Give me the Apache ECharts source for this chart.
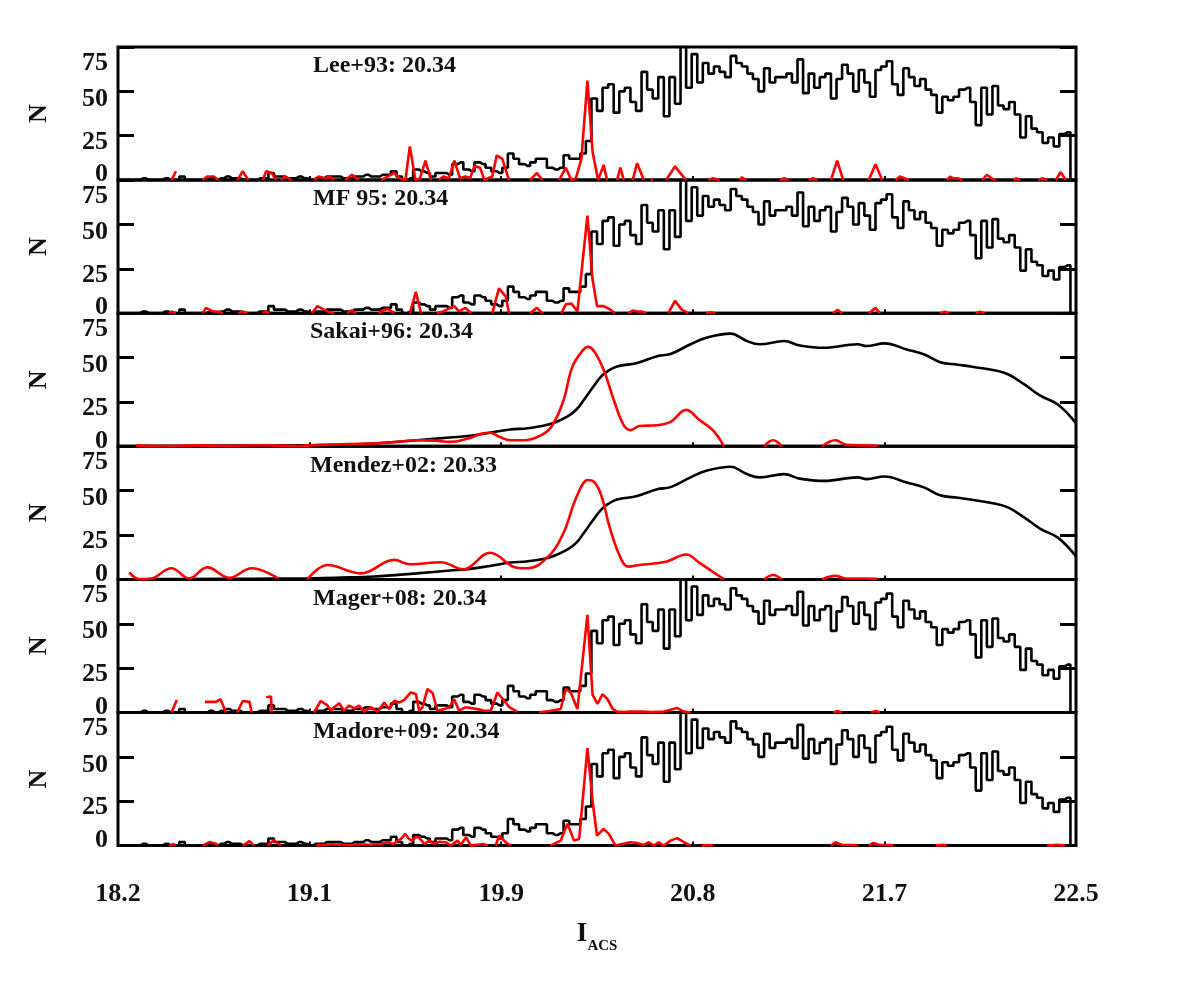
<!DOCTYPE html>
<html>
<head>
<meta charset="utf-8">
<script src="https://cdn.jsdelivr.net/npm/echarts@6/dist/echarts.min.js"></script>
<style>html,body{margin:0;padding:0;background:#fff}#c{width:1196px;height:997px}</style>
</head>
<body>
<div id="c"></div>
<script>
// ---------------- DATA ----------------
const panelTitles = ['Lee+93: 20.34', 'MF 95: 20.34', 'Sakai+96: 20.34', 'Mendez+02: 20.33', 'Mager+08: 20.34', 'Madore+09: 20.34'];
const xTickValues = [18.2, 19.06, 19.92, 20.78, 21.64, 22.5];
const xTickLabels = ['18.2', '19.1', '19.9', '20.8', '21.7', '22.5'];
const yTickLabels = ['0', '25', '50', '75'];
const xTitleMain = 'I';
const xTitleSub = 'ACS';
const yTitle = 'N';

// Histogram (black, panels 1,2,5,6): bins of 0.025 mag starting at 18.2
const histStart = 18.2;
const binWidth = 0.025;
const histCounts = [
  0,0,0,0,
  1,0,0,0,1,0,0,
  2,0,0,0,0,1,0,1,2,1,
  1,0,0,0,1,1,4,2,2,1,
  1,2,1,0,1,1,2,2,2,1,
  1,2,2,3,2,2,3,3,5,2,0,1,
  6,5,4,2,4,4,3,9,10,6,
  5,10,9,7,5,4,7,15,12,9,
  8,10,12,12,7,6,7,14,12,12,15,22,
  46,39,52,54,38,50,52,44,39,61,51,46,58,36,58,43,
  80,52,71,55,66,60,64,61,58,70,66,64,60,57,50,63,55,58,58,60,
  55,68,49,60,52,58,60,46,57,65,60,50,62,55,47,62,64,67,54,48,
  63,58,53,57,51,48,38,47,45,47,51,52,44,31,52,37,53,42,40,44,
  37,24,36,29,27,21,24,19,26,27,0
];

// Smoothed luminosity function (black, panels 3,4)
const smoothMag = [18.2,18.5,18.8,19.0,19.2,19.35,19.54,19.69,19.77,19.87,19.96,20.04,20.14,20.22,20.26,20.29,20.33,20.37,20.40,20.44,20.53,20.62,20.68,20.77,20.84,20.95,21.02,21.08,21.19,21.26,21.37,21.52,21.56,21.64,21.74,21.82,21.89,21.97,22.04,22.18,22.27,22.34,22.42,22.5];
const smoothN   = [0,0.2,0.4,0.5,1,1.6,3.4,5,5.8,7.6,9.5,10.2,12.5,17,21,26,33,39.5,42.5,45,47,50.8,52,57.5,61.2,63.5,59.5,57.5,59.3,56.8,55.5,57.5,56.5,58,54.6,51.7,47.4,46,44.7,41.3,34.7,28.5,23.4,13];

// Edge-detection responses (red), [mag, N]; null = not visible
const redLee93 = [
  [18.44,0],[18.46,5],[18.48,null],
  [18.58,0],[18.6,2],[18.63,2],[18.65,0],[18.66,null],
  [18.735,0],[18.76,5],[18.785,0],[18.79,null],
  [18.85,0],[18.865,5],[18.89,4],[18.91,0],[18.92,null],
  [18.93,0],[18.95,2],[18.98,0],[18.99,null],
  [19.08,0],[19.1,2],[19.13,1],[19.15,2],[19.17,0],[19.18,null],
  [19.22,0],[19.25,3],[19.28,0],[19.29,null],
  [19.38,0],[19.41,2],[19.44,4],[19.465,1],[19.49,0],[19.51,19],[19.535,0],[19.555,1],[19.58,11],[19.605,0],[19.62,null],
  [19.64,0],[19.66,2],[19.685,1],[19.71,11],[19.735,1],[19.76,2],[19.78,1],[19.80,8],[19.825,7],[19.845,0],[19.86,1],[19.88,2],[19.90,14],[19.925,12],[19.955,0],[19.96,null],
  [20.05,0],[20.08,4],[20.105,0],[20.11,null],
  [20.18,0],[20.21,7],[20.235,0],[20.255,1],[20.28,12],[20.307,56],[20.33,16],[20.355,0],[20.38,8.5],[20.395,0],[20.40,null],
  [20.44,0],[20.455,7],[20.47,0],[20.48,null],
  [20.51,0],[20.53,9.5],[20.56,0],[20.57,null],
  [20.59,0],[20.60,0.5],[20.61,null],
  [20.66,0],[20.70,7.7],[20.75,0],[20.76,null],
  [20.85,0],[20.87,1],[20.90,0],[20.91,null],
  [20.99,0],[21.0,1.5],[21.02,0],[21.03,null],
  [21.17,0],[21.19,1],[21.21,0],[21.22,null],
  [21.30,0],[21.32,1],[21.34,0],[21.35,null],
  [21.40,0],[21.428,11],[21.455,0],[21.46,null],
  [21.57,0],[21.60,9],[21.63,0],[21.64,null],
  [21.69,0],[21.71,2],[21.73,1],[21.75,0],[21.76,null],
  [21.92,0],[21.935,2],[21.95,1],[21.97,1],[21.99,0],[22.0,null],
  [22.08,0],[22.10,3],[22.12,1],[22.14,0],[22.15,null],
  [22.22,0],[22.23,1],[22.25,0],[22.26,null],
  [22.33,0],[22.35,1],[22.37,0],[22.38,null],
  [22.41,0],[22.43,4.5],[22.455,0]
];
const redMF95 = [
  [18.43,0],[18.44,1],[18.46,0],[18.47,null],
  [18.58,0],[18.595,3],[18.625,1],[18.65,1],[18.67,0],[18.68,null],
  [18.74,0],[18.76,1],[18.78,0],[18.79,null],
  [18.85,0],[18.86,1],[18.88,0],[18.89,null],
  [19.07,0],[19.095,4],[19.125,2],[19.15,0.5],[19.17,0],[19.18,null],
  [19.23,0],[19.245,1.5],[19.27,0],[19.28,null],
  [19.37,0],[19.39,1.5],[19.41,2.5],[19.44,0],[19.45,null],
  [19.51,0],[19.537,12],[19.56,0],[19.57,null],
  [19.63,0],[19.66,1],[19.69,3],[19.71,4],[19.73,1],[19.76,3],[19.785,0],[19.79,null],
  [19.88,0],[19.91,14],[19.94,9.5],[19.955,0],[19.96,null],
  [20.05,0],[20.08,3],[20.105,0],[20.11,null],
  [20.19,0],[20.21,5],[20.235,5.5],[20.262,1],[20.307,55],[20.33,19],[20.35,4],[20.38,4],[20.41,2],[20.43,0],[20.44,null],
  [20.49,0],[20.51,1.5],[20.53,1],[20.55,1],[20.57,0],[20.58,null],
  [20.67,0],[20.70,7],[20.73,2],[20.76,0],[20.77,null],
  [20.84,0],[20.86,0.5],[20.88,0],[20.89,null],
  [21.41,0],[21.43,2],[21.45,0],[21.46,null],
  [21.57,0],[21.60,3],[21.62,0],[21.63,null],
  [21.89,0],[21.91,0.8],[21.93,0],[21.94,null],
  [22.05,0],[22.07,0.8],[22.09,0]
];
const redSakai96 = [
  [18.28,0.5],[18.4,0.2],[18.55,0.5],[18.7,0.3],[18.85,0.6],[19.0,0.2],[19.1,0.8],[19.32,1.5],[19.44,2.4],[19.54,3.4],
  [19.62,3.2],[19.69,2.5],[19.77,4.4],[19.83,7],[19.87,7.6],[19.91,5.5],[19.96,3.4],[20.02,3.4],[20.1,6.3],[20.15,11.9],
  [20.2,26],[20.24,45],[20.29,54.6],[20.31,56],[20.34,53],[20.38,43],[20.43,24.4],[20.47,11.9],[20.5,9.1],[20.54,11.4],
  [20.62,11.9],[20.68,13.8],[20.75,20.5],[20.81,14.8],[20.87,9.1],[20.92,0],[20.93,null],
  [21.10,0],[21.14,3.4],[21.18,0],[21.19,null],
  [21.36,0],[21.42,3.4],[21.47,0.8],[21.55,0.5],[21.61,0.3]
];
const redMendez02 = [
  [18.25,4],[18.3,0],[18.35,0.5],[18.44,6.3],[18.52,0.5],[18.6,6.8],[18.7,0.9],[18.8,6.3],[18.92,0.5],[18.93,null],
  [19.05,0],[19.14,8.1],[19.29,3.4],[19.44,11],[19.51,8.5],[19.65,9.7],[19.75,5.7],[19.87,15],[19.99,6.6],[20.04,6.3],
  [20.14,14],[20.2,26.3],[20.26,47],[20.31,56],[20.34,54.5],[20.37,47],[20.41,28],[20.46,11],[20.49,7.2],[20.54,8.1],
  [20.66,10],[20.75,14],[20.81,9.3],[20.92,0],[20.93,null],
  [21.10,0],[21.14,2.5],[21.18,0],[21.19,null],
  [21.36,0],[21.42,2],[21.47,0.5],[21.55,0.5],[21.61,0.3]
];
const redMager08 = [
  [18.44,0],[18.464,7],[18.47,null],
  [18.59,6],[18.64,6],[18.66,7.5],[18.685,0],[18.69,null],
  [18.735,0],[18.76,6.5],[18.79,6],[18.80,0],[18.81,null],
  [18.865,8.6],[18.887,9],[18.89,0],[18.90,null],
  [19.08,0],[19.11,6.5],[19.14,4],[19.155,1],[19.17,3],[19.193,5.2],[19.215,1],[19.237,3.9],[19.26,2.3],[19.282,3.9],
  [19.305,0.4],[19.335,3],[19.365,0.4],[19.395,5.6],[19.417,1.9],[19.44,6.6],[19.462,5.6],[19.485,7.1],[19.514,11.3],
  [19.537,10.4],[19.552,1],[19.567,3],[19.589,13.3],[19.612,11],[19.634,1],[19.664,1.9],[19.687,3],[19.709,7.5],
  [19.731,1],[19.761,3],[19.814,1.9],[19.844,1],[19.873,1],[19.903,11.3],[19.933,6.6],[19.956,3],[19.993,0.4],[20.0,null],
  [20.09,0],[20.143,1],[20.187,2],[20.21,13.3],[20.232,11.3],[20.262,1.9],[20.307,55],[20.33,10],[20.352,4.8],
  [20.375,10.4],[20.397,7.5],[20.42,2],[20.44,0.5],[20.47,0.3],[20.5,0.5],[20.55,0.5],[20.6,0.3],[20.65,0.5],
  [20.68,1.5],[20.71,2.5],[20.74,0.5],[20.77,0],[20.78,null],
  [21.41,0],[21.43,0.8],[21.45,0],[21.46,null],
  [21.58,0],[21.60,0.8],[21.62,0]
];
const redMadore09 = [
  [18.43,0],[18.45,0.8],[18.46,0],[18.47,null],
  [18.58,0],[18.61,2],[18.64,1],[18.65,0],[18.66,null],
  [18.76,0],[18.79,2.5],[18.81,0],[18.82,null],
  [18.87,0],[18.90,3],[18.93,0],[18.94,null],
  [19.09,0],[19.16,0.8],[19.245,0.2],[19.275,0.8],[19.335,0.5],[19.38,0.9],[19.41,1.9],[19.435,0.9],[19.47,3.8],
  [19.49,6.6],[19.505,3.8],[19.52,2.8],[19.535,4.7],[19.55,4.7],[19.575,0.9],[19.597,2.8],[19.62,0.9],[19.642,2.2],
  [19.672,1.9],[19.694,0],[19.724,2.8],[19.739,0.4],[19.762,4.7],[19.784,0],[19.84,0.9],[19.86,0],[19.87,null],
  [19.895,0],[19.911,5.7],[19.94,1.9],[19.963,0],[19.97,null],
  [20.14,0],[20.187,2.8],[20.217,12.3],[20.247,2.8],[20.27,3.8],[20.307,55],[20.33,25],[20.35,5.7],[20.38,9.4],
  [20.403,6.6],[20.433,0],[20.463,0.9],[20.5,1.9],[20.53,1.5],[20.56,0.4],[20.583,1.9],[20.605,0],[20.627,1.9],
  [20.65,0],[20.68,2.8],[20.71,4.2],[20.74,1.9],[20.77,0],[20.78,null],
  [20.82,0],[20.85,0.3],[20.87,0],[20.88,null],
  [21.40,0],[21.42,1.9],[21.45,0.3],[21.5,0.3],[21.52,0],[21.53,null],
  [21.57,0],[21.59,1.5],[21.62,0.3],[21.66,0.3],[21.68,0],[21.69,null],
  [21.87,0],[21.9,0.4],[21.92,0],[21.93,null],
  [22.37,0],[22.42,0.4],[22.45,0]
];

const redSeries = [redLee93, redMF95, redSakai96, redMendez02, redMager08, redMadore09];
const panelKind = ['hist', 'hist', 'smooth', 'smooth', 'hist', 'hist'];

// ---------------- CHART ----------------
const FONT = "'Liberation Serif','DejaVu Serif','Times New Roman',serif";
const INK = '#111';
const PANEL_TOP = 47, PANEL_H = 133.1, LEFT = 118, RIGHT = 120;
const titleLeft = [313, 313, 310, 310, 313, 313];

function tickLabelFor(v) {
  let best = 0, bd = Infinity;
  xTickValues.forEach((t, k) => { const d = Math.abs(t - v); if (d < bd) { bd = d; best = k; } });
  return xTickLabels[best];
}
const lblBase = { fontFamily: FONT, fontWeight: 'bold', fontSize: 26, color: INK };
const yRich = {
  a0: Object.assign({}, lblBase, { padding: [0, 0, 11, 0] }),
  a25: Object.assign({}, lblBase, { padding: [13, 0, 0, 0] }),
  a50: Object.assign({}, lblBase, { padding: [16, 0, 0, 0] }),
  a75: Object.assign({}, lblBase, { padding: [32, 0, 0, 0] })
};

const histData = histCounts.map((c, k) => [histStart + binWidth * (k + 0.5), c]);
const smoothData = smoothMag.map((m, k) => [m, smoothN[k]]);

const grids = [], xAxes = [], yAxes = [], series = [], titles = [];
for (let i = 0; i < 6; i++) {
  const top = PANEL_TOP + PANEL_H * i;
  const last = i === 5;
  grids.push({ left: LEFT, right: RIGHT, top: top, height: PANEL_H, show: true, borderColor: '#000', borderWidth: 3, backgroundColor: 'transparent' });
  xAxes.push({
    type: 'value', gridIndex: i, min: 18.2, max: 22.5,
    axisLine: { show: false }, splitLine: { show: false },
    axisTick: { show: true, inside: true, length: 4, customValues: xTickValues, lineStyle: { color: '#000', width: 2 } },
    axisLabel: { show: last, customValues: xTickValues, formatter: tickLabelFor, margin: 36, fontFamily: FONT, fontWeight: 'bold', fontSize: 26, color: INK, showMinLabel: true, showMaxLabel: true },
    name: last ? '{i|' + xTitleMain + '}{s|' + xTitleSub + '}' : '',
    nameLocation: 'middle', nameGap: 74,
    nameTextStyle: { rich: {
      i: { fontFamily: FONT, fontWeight: 'bold', fontSize: 28, color: INK, verticalAlign: 'bottom', padding: [0, 0, 6, 0] },
      s: { fontFamily: FONT, fontWeight: 'bold', fontSize: 15, color: INK, verticalAlign: 'bottom' }
    } }
  });
  yAxes.push({
    type: 'value', gridIndex: i, min: 0, max: 75, interval: 25, position: 'left',
    axisLine: { show: false }, splitLine: { show: false },
    axisTick: { show: true, inside: true, length: 16, lineStyle: { color: '#000', width: 3 } },
    axisLabel: { formatter: v => '{a' + v + '|' + yTickLabels[Math.round(v / 25)] + '}', rich: yRich, margin: 10 },
    name: yTitle, nameLocation: 'middle', nameGap: 66,
    nameTextStyle: { fontFamily: FONT, fontWeight: 'bold', fontSize: 26, color: INK }
  });
  yAxes.push({
    type: 'value', gridIndex: i, min: 0, max: 75, interval: 25, position: 'right',
    axisLine: { show: false }, splitLine: { show: false },
    axisTick: { show: true, inside: true, length: 16, lineStyle: { color: '#000', width: 3 } },
    axisLabel: { show: false }
  });
  titles.push({
    text: panelTitles[i], left: titleLeft[i], top: top + 7, padding: 0,
    textStyle: { fontFamily: FONT, fontWeight: 'bold', fontSize: 24, color: INK }
  });
  if (panelKind[i] === 'hist') {
    series.push({ type: 'line', xAxisIndex: i, yAxisIndex: 2 * i, data: histData, step: 'middle', symbol: 'none',
      lineStyle: { color: '#000', width: 2.6 }, clip: true, z: 3 });
    series.push({ type: 'line', xAxisIndex: i, yAxisIndex: 2 * i, data: redSeries[i], symbol: 'none', connectNulls: false,
      lineStyle: { color: '#ff0000', width: 2.6 }, clip: true, z: 4 });
  } else {
    series.push({ type: 'line', xAxisIndex: i, yAxisIndex: 2 * i, data: smoothData, smooth: 0.4, symbol: 'none',
      lineStyle: { color: '#000', width: 2.6 }, clip: true, z: 3 });
    series.push({ type: 'line', xAxisIndex: i, yAxisIndex: 2 * i, data: redSeries[i], smooth: 0.4, symbol: 'none', connectNulls: false,
      lineStyle: { color: '#ff0000', width: 2.6 }, clip: true, z: 4 });
  }
}

const chart = echarts.init(document.getElementById('c'), null, { renderer: 'canvas' });
chart.setOption({
  animation: false,
  backgroundColor: '#fff',
  title: titles,
  grid: grids,
  xAxis: xAxes,
  yAxis: yAxes,
  series: series
});
</script>
</body>
</html>
